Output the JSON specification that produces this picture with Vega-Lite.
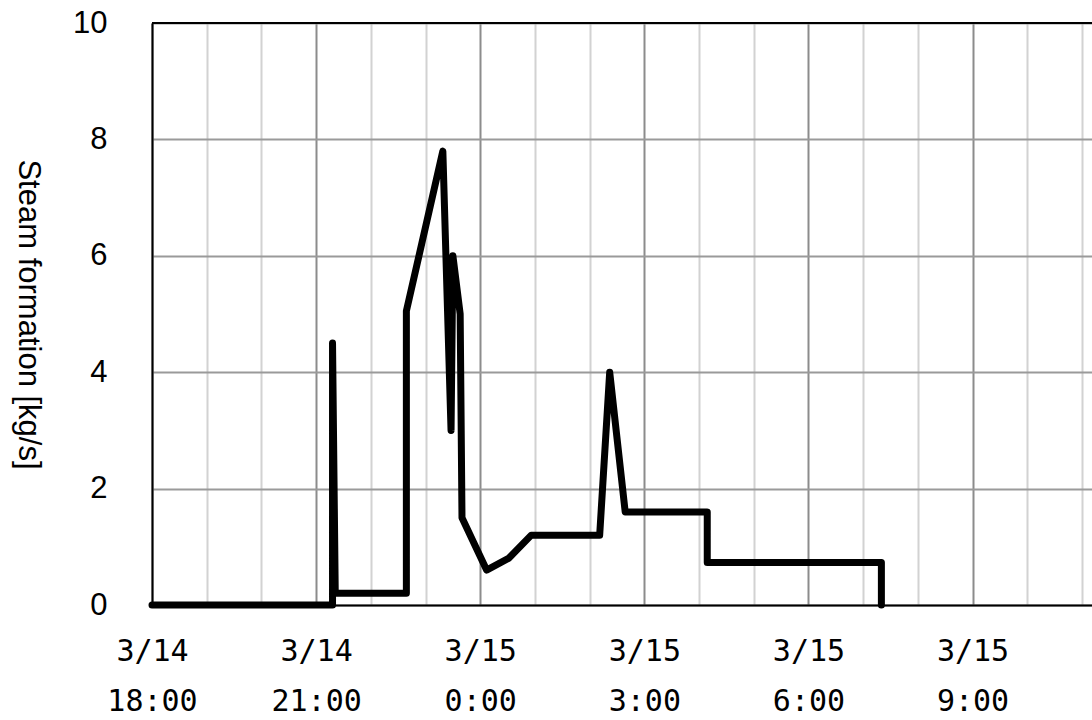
{
  "$schema": "https://vega.github.io/schema/vega-lite/v6.json",
  "width": 940,
  "height": 582,
  "autosize": {"type": "none"},
  "padding": {"left": 152, "top": 23, "right": 0, "bottom": 115},
  "background": "white",
  "config": {"view": {"stroke": null}},
  "data": {
    "values": [
      {"i": 1, "t": "2011-03-14T18:00", "v": 0},
      {"i": 2, "t": "2011-03-14T21:18", "v": 0},
      {"i": 3, "t": "2011-03-14T21:18", "v": 4.5},
      {"i": 4, "t": "2011-03-14T21:21", "v": 0.2},
      {"i": 5, "t": "2011-03-14T22:39", "v": 0.2},
      {"i": 6, "t": "2011-03-14T22:39", "v": 5.05},
      {"i": 7, "t": "2011-03-14T23:19", "v": 7.8},
      {"i": 8, "t": "2011-03-14T23:28", "v": 3.0},
      {"i": 9, "t": "2011-03-14T23:30", "v": 6.0},
      {"i": 10, "t": "2011-03-14T23:38", "v": 5.0},
      {"i": 11, "t": "2011-03-14T23:40", "v": 1.5},
      {"i": 12, "t": "2011-03-15T00:07", "v": 0.6},
      {"i": 13, "t": "2011-03-15T00:31", "v": 0.8},
      {"i": 14, "t": "2011-03-15T00:56", "v": 1.2},
      {"i": 15, "t": "2011-03-15T02:11", "v": 1.2},
      {"i": 16, "t": "2011-03-15T02:22", "v": 4.0},
      {"i": 17, "t": "2011-03-15T02:39", "v": 1.6},
      {"i": 18, "t": "2011-03-15T04:09", "v": 1.6},
      {"i": 19, "t": "2011-03-15T04:09", "v": 0.73},
      {"i": 20, "t": "2011-03-15T07:20", "v": 0.73},
      {"i": 21, "t": "2011-03-15T07:20", "v": 0}
    ]
  },
  "layer": [
    {
      "mark": {"type": "line", "color": "black", "strokeWidth": 7, "strokeJoin": "round", "strokeCap": "round"},
      "encoding": {
        "x": {
          "field": "t",
          "type": "temporal",
          "scale": {"domain": [
            {"year": 2011, "month": 3, "date": 14, "hours": 18, "minutes": 0},
            {"year": 2011, "month": 3, "date": 15, "hours": 11, "minutes": 11}
          ]},
          "axis": {
            "title": null,
            "values": [
              {"year": 2011, "month": 3, "date": 14, "hours": 18},
              {"year": 2011, "month": 3, "date": 14, "hours": 19},
              {"year": 2011, "month": 3, "date": 14, "hours": 20},
              {"year": 2011, "month": 3, "date": 14, "hours": 21},
              {"year": 2011, "month": 3, "date": 14, "hours": 22},
              {"year": 2011, "month": 3, "date": 14, "hours": 23},
              {"year": 2011, "month": 3, "date": 15, "hours": 0},
              {"year": 2011, "month": 3, "date": 15, "hours": 1},
              {"year": 2011, "month": 3, "date": 15, "hours": 2},
              {"year": 2011, "month": 3, "date": 15, "hours": 3},
              {"year": 2011, "month": 3, "date": 15, "hours": 4},
              {"year": 2011, "month": 3, "date": 15, "hours": 5},
              {"year": 2011, "month": 3, "date": 15, "hours": 6},
              {"year": 2011, "month": 3, "date": 15, "hours": 7},
              {"year": 2011, "month": 3, "date": 15, "hours": 8},
              {"year": 2011, "month": 3, "date": 15, "hours": 9},
              {"year": 2011, "month": 3, "date": 15, "hours": 10},
              {"year": 2011, "month": 3, "date": 15, "hours": 11}
            ],
            "labelExpr": "hours(datum.value) % 3 === 0 ? [timeFormat(datum.value, '%-m/%-d'), timeFormat(datum.value, '%-H:%M')] : ''",
            "labelOverlap": false,
            "labelFlush": false,
            "labelFont": "DejaVu Sans Mono",
            "labelFontSize": 30,
            "labelColor": "black",
            "labelBaseline": "top",
            "labelLineHeight": 50,
            "labelPadding": 31,
            "ticks": false,
            "domainColor": "black",
            "domainWidth": 2,
            "grid": true,
            "gridColor": {"condition": {"test": "hours(datum.value) % 3 === 0", "value": "#8c8c8c"}, "value": "#d2d2d2"},
            "gridWidth": 2,
            "gridOpacity": 1
          }
        },
        "y": {
          "field": "v",
          "type": "quantitative",
          "scale": {"domain": [0, 10], "nice": false, "zero": true},
          "axis": {
            "title": "Steam formation [kg/s]",
            "titleFont": "Liberation Sans",
            "titleFontSize": 31,
            "titleFontWeight": "normal",
            "titleColor": "black",
            "titleAngle": 90,
            "titleAlign": "center",
            "titleBaseline": "middle",
            "titleX": -125,
            "titleY": 291,
            "values": [0, 2, 4, 6, 8, 10],
            "format": "d",
            "labelFont": "Liberation Sans",
            "labelFontSize": 31,
            "labelColor": "black",
            "labelPadding": 45,
            "ticks": false,
            "domainColor": "black",
            "domainWidth": 2,
            "grid": true,
            "gridColor": "#9a9a9a",
            "gridWidth": 2,
            "gridOpacity": 1
          }
        },
        "order": {"field": "i", "type": "quantitative"}
      }
    },
    {
      "mark": {"type": "rule", "color": "black", "strokeWidth": 2},
      "encoding": {"y": {"datum": 10}}
    }
  ]
}
